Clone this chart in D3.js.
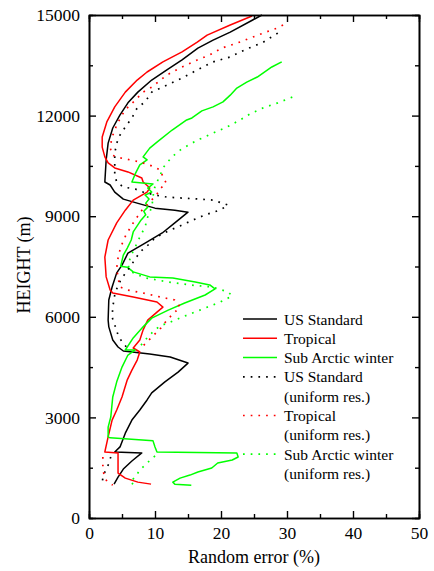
<!DOCTYPE html>
<html><head><meta charset="utf-8">
<script src="https://cdn.jsdelivr.net/npm/d3@7"></script>
<style>
html,body{margin:0;padding:0;background:#fff;}
svg{display:block;}
svg text{font-family:"Liberation Serif","Times New Roman",Times,serif !important;}
</style></head><body>
<svg id="c" width="434" height="571"></svg>
<script>
// Data: [random error %, height m]; null breaks a line
const usStandard = [[26.2,15000],[24.8,14850],[21.4,14490],[18.8,14250],[16.5,14010],[14.1,13660],[11.8,13360],[9.5,13060],[7.4,12700],[5.9,12380],[4.7,12020],[3.6,11630],[2.9,11180],[2.6,10680],[2.4,10020],[3.2,9930],[3.9,9720],[5.2,9510],[7.3,9390],[10.0,9240],[13.0,9180],[15.0,9120],[13.0,8800],[11.1,8500],[8.5,8200],[5.9,7900],[5.0,7540],[4.2,7310],[3.5,6890],[3.0,6500],[2.9,5900],[3.0,5700],[3.6,5310],[4.4,5100],[5.2,4980],[9.2,4890],[12.3,4800],[15.0,4620],[13.5,4350],[11.5,4060],[9.5,3730],[8.8,3520],[7.7,3220],[6.5,2920],[5.5,2530],[4.7,2120],[3.9,1970],[8.0,1940],[6.5,1700],[5.2,1460],[4.4,1220],[3.8,1010]];
const tropical = [[24.7,14970],[21.4,14700],[17.9,14400],[16.4,14190],[14.1,13900],[11.2,13600],[8.8,13300],[7.3,13060],[5.5,12700],[3.9,12260],[2.7,11810],[2.0,11360],[2.0,11060],[2.4,10770],[2.9,10590],[3.9,10440],[5.9,10320],[8.0,10140],[8.2,10020],[8.9,9900],[9.2,9840],[8.8,9720],[6.7,9480],[5.5,9180],[4.2,8800],[2.9,8290],[2.4,7780],[2.6,7190],[3.2,6800],[3.6,6710],[6.7,6590],[10.3,6440],[11.2,6290],[10.3,6140],[8.9,5900],[8.2,5610],[7.7,5310],[6.7,5070],[7.7,4950],[7.3,4710],[6.5,4410],[5.8,4120],[5.0,3610],[4.2,3220],[3.5,2920],[2.9,2420],[2.4,1970],[4.4,1940],[4.4,1730],[4.4,1340],[5.5,1190],[7.4,1070],[9.4,1010]];
const subArctic = [[29.2,13600],[27.7,13450],[25.5,13150],[23.9,13000],[22.4,12820],[21.4,12610],[20.3,12410],[18.8,12260],[17.1,12140],[15.6,11930],[14.8,11870],[12.6,11570],[10.3,11210],[9.2,11030],[8.2,10770],[8.8,10680],[7.7,10530],[7.0,10260],[6.5,10020],[9.7,9960],[8.9,9840],[9.5,9720],[8.5,9630],[9.1,9510],[8.6,9390],[8.9,9270],[8.3,9150],[8.6,9040],[7.9,8890],[7.3,8710],[6.7,8530],[6.4,8290],[5.8,8050],[5.2,7840],[4.8,7510],[5.8,7480],[6.7,7340],[9.2,7190],[12.7,7160],[16.1,7040],[18.3,6950],[19.1,6830],[17.6,6650],[14.5,6410],[12.0,6200],[9.5,5960],[8.2,5700],[6.7,5370],[5.5,5010],[7.0,5010],[5.9,4860],[5.0,4500],[4.2,4060],[3.6,3610],[3.3,3010],[2.9,2710],[2.9,2420],[3.2,2390],[9.7,2300],[10.0,2120],[10.3,1970],[22.4,1940],[22.6,1820],[21.7,1730],[19.5,1640],[18.6,1490],[16.5,1370],[15.3,1280],[13.8,1190],[12.7,1070],[13.0,1010],[15.5,980]];
const usStandardUni = [[28.6,14460],[26.4,14190],[23.6,13960],[21.4,13750],[18.8,13600],[16.4,13360],[14.1,13120],[11.8,12910],[9.5,12700],[8.5,12410],[7.3,12230],[6.5,11930],[5.5,11660],[4.7,11420],[4.2,11180],[3.9,10880],[3.9,10620],[3.9,10230],[4.2,10020],[5.2,9870],[7.0,9810],[8.2,9720],[10.0,9630],[11.8,9570],[14.2,9540],[16.8,9510],[18.8,9480],[20.2,9390],[21.1,9330],[19.8,9180],[17.6,9040],[15.8,8890],[13.8,8710],[12.0,8560],[10.0,8350],[8.8,8110],[7.7,7930],[6.7,7630],[5.9,7400],[5.0,7160],[4.4,6950],[3.9,6650],[3.6,6290],[3.5,5990],[3.9,5760],[4.4,5460],[5.0,5250],[5.8,5070],null,[3.3,1820],[2.9,1580],[2.4,1370],[2.1,1190],[2.0,1070]];
const tropicalUni = [[29.4,14700],[28.5,14610],[26.4,14460],[24.4,14310],[22.4,14160],[20.2,14020],[18.3,13810],[16.4,13660],[14.1,13450],[11.8,13210],[9.5,12850],[8.2,12700],[7.0,12460],[5.8,12230],[5.0,12020],[4.2,11720],[3.5,11360],[3.2,11060],[3.5,10820],[4.7,10740],[6.2,10680],[7.7,10620],[9.5,10500],[10.8,10380],[11.2,10170],[11.7,9990],[10.9,9840],[10.2,9630],[9.2,9420],[7.9,9150],[6.7,8800],[5.6,8440],[4.8,8080],[4.4,7750],[4.2,7460],[4.4,7160],[4.7,6890],[5.8,6800],[8.2,6710],[10.8,6590],[13.0,6500],[13.8,6290],[12.7,6080],[11.8,5900],[10.9,5670],[9.7,5430],[8.5,5190],[7.6,5040],null,[2.1,1820],[2.1,1610],[2.1,1430],[2.4,1220],[2.7,1100],[3.6,980]];
const subArcticUni = [[30.8,12550],[28.6,12380],[26.4,12230],[24.4,12050],[22.9,11870],[20.9,11660],[18.8,11480],[16.8,11300],[15.3,11150],[13.8,10970],[12.6,10770],[11.8,10590],[11.2,10440],[10.8,10230],[10.3,10020],[9.8,9780],[9.7,9540],[9.5,9270],[8.9,8980],[8.5,8680],[7.7,8380],[7.0,8080],[6.4,7840],[5.9,7540],[6.4,7340],[8.5,7160],[12.0,7040],[15.3,6950],[18.6,6890],[21.1,6740],[21.7,6620],[19.9,6440],[16.8,6200],[14.1,5990],[12.3,5840],[10.8,5730],[10.0,5610],[8.9,5400],[8.2,5220],[7.4,5070],null,[10.0,1850],[8.8,1640],[7.7,1430],[7.0,1220],[6.2,1070],[7.0,980]];

const xTicks = [0,10,20,30,40,50];
const xMinor = [5,15,25,35,45];
const yTicks = [0,3000,6000,9000,12000,15000];
const yMinor = [1500,4500,7500,10500,13500];

const seriesNames = ["US Standard","Tropical","Sub Arctic winter","US Standard","Tropical","Sub Arctic winter"];
const seriesSub = ["","","","(uniform res.)","(uniform res.)","(uniform res.)"];
const seriesData = [usStandard,tropical,subArctic,usStandardUni,tropicalUni,subArcticUni];
const seriesColor = ["#000000","#ff0000","#00ff00","#000000","#ff0000","#00ff00"];
const seriesDotted = [false,false,false,true,true,true];

const FF = "'Liberation Serif','Times New Roman',Times,serif";
const svg = d3.select("#c");
const L=89,R=419,T=15,B=518;
const x = d3.scaleLinear().domain([0,50]).range([L,R]);
const y = d3.scaleLinear().domain([0,15000]).range([B,T]);
const font = 17.5;

// data lines
const line = d3.line().defined(d=>d!==null).x(d=>x(d[0])).y(d=>y(d[1]));
seriesData.forEach((d,i)=>{
  svg.append("path").attr("d",line(d)).attr("fill","none")
    .attr("stroke",seriesColor[i]).attr("stroke-width",seriesDotted[i]?1.7:1.5)
    .attr("stroke-linejoin","round")
    .attr("stroke-dasharray",seriesDotted[i]?"1.7,6":null);
});

function styleAxis(g){
  g.attr("font-family",FF);
  g.selectAll(".domain").attr("stroke","#000").attr("stroke-width",1.6);
  g.selectAll(".tick line").attr("stroke","#000").attr("stroke-width",1.4);
  g.selectAll("text").attr("font-size",font).attr("fill","#000").attr("font-family",FF);
}
// minor ticks
[[d3.axisBottom(x),B],[d3.axisTop(x),T]].forEach(([ax,pos])=>{
  svg.append("g").attr("transform",`translate(0,${pos})`)
    .call(ax.tickValues(xMinor).tickSize(-4).tickFormat(""))
    .call(styleAxis);
});
[[d3.axisLeft(y),L],[d3.axisRight(y),R]].forEach(([ax,pos])=>{
  svg.append("g").attr("transform",`translate(${pos},0)`)
    .call(ax.tickValues(yMinor).tickSize(-4).tickFormat(""))
    .call(styleAxis);
});
// major ticks
svg.append("g").attr("transform",`translate(0,${B})`)
  .call(d3.axisBottom(x).tickValues(xTicks).tickSize(-7).tickSizeOuter(0).tickPadding(9).tickFormat(d3.format("d")))
  .call(styleAxis);
svg.append("g").attr("transform",`translate(0,${T})`)
  .call(d3.axisTop(x).tickValues(xTicks).tickSize(-7).tickSizeOuter(0).tickFormat(""))
  .call(styleAxis);
svg.append("g").attr("transform",`translate(${L},0)`)
  .call(d3.axisLeft(y).tickValues(yTicks).tickSize(-7).tickSizeOuter(0).tickPadding(9).tickFormat(d3.format("d")))
  .call(styleAxis);
svg.append("g").attr("transform",`translate(${R},0)`)
  .call(d3.axisRight(y).tickValues(yTicks).tickSize(-7).tickSizeOuter(0).tickFormat(""))
  .call(styleAxis);

// axis titles
svg.append("text").attr("x",(L+R)/2).attr("y",563).attr("text-anchor","middle")
  .attr("font-family",FF).attr("font-size",18).text("Random error (%)");
svg.append("text").attr("transform","translate(30,265) rotate(-90)").attr("text-anchor","middle")
  .attr("font-family",FF).attr("font-size",18).text("HEIGHT (m)");

// legend
const lg = svg.append("g").attr("font-family",FF);
let row = 0;
const rowH = 19.3, ly0 = 319;
seriesNames.forEach((n,i)=>{
  const yy = ly0 + row*rowH;
  lg.append("line").attr("x1",243).attr("x2",277).attr("y1",yy).attr("y2",yy)
    .attr("stroke",seriesColor[i]).attr("stroke-width",seriesDotted[i]?1.7:1.5)
    .attr("stroke-dasharray",seriesDotted[i]?"1.7,6":null);
  lg.append("text").attr("x",284).attr("y",yy+5.5).attr("font-family",FF).attr("font-size",15.5).text(n);
  row++;
  if(seriesSub[i]){
    lg.append("text").attr("x",284).attr("y",ly0+row*rowH+5.5).attr("font-family",FF).attr("font-size",15.5).text(seriesSub[i]);
    row++;
  }
});
</script>
</body></html>
